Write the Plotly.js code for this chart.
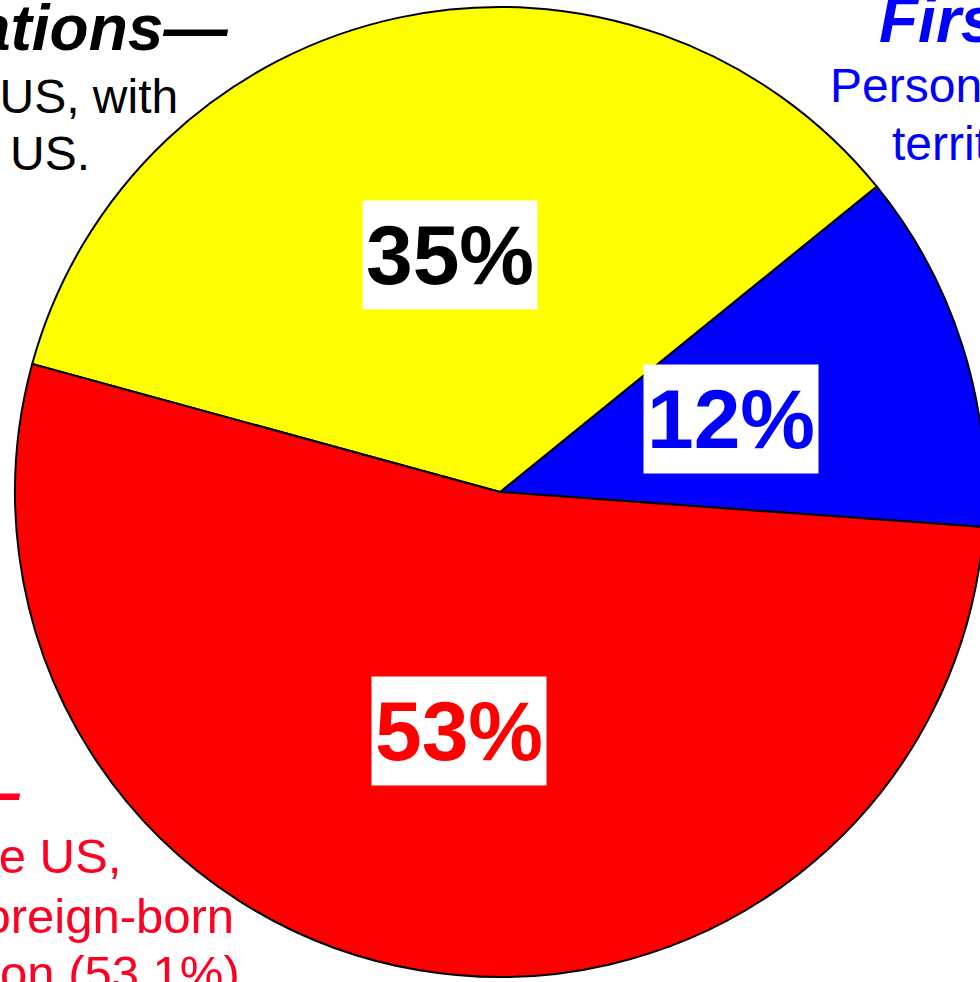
<!DOCTYPE html>
<html>
<head>
<meta charset="utf-8">
<script src="https://cdn.plot.ly/plotly-3.0.1.min.js"></script>
<style>
html, body { margin: 0; padding: 0; overflow: hidden; background: #fff; }
#chart { width: 1000px; height: 982px; }
</style>
</head>
<body>
<div id="chart"></div>
<script>
// ---- data ----
var categories = ["First Generation", "Second Generation", "Third+ Generation"];
var shares = [12.0, 34.9, 53.1];
var sliceLabels = ["12%", "35%", "53%"];
var sliceColors = ["#0000ff", "#ffff00", "#ff0000"];
var labelColors = ["#0000ff", "#000000", "#ff0000"];

// ---- geometry / layout settings ----
var W = 1000, H = 982;
var cx = 500, cy = 492, R = 485;
var rotation = 50.95; // degrees, plotly pie rotation
var FONT = "Liberation Sans, Arial, Helvetica, sans-serif";

var trace = {
  type: "pie",
  labels: categories,
  values: shares,
  sort: false,
  direction: "counterclockwise",
  rotation: rotation,
  textinfo: "none",
  hoverinfo: "none",
  marker: { colors: sliceColors, line: { color: "#000000", width: 2 } },
  domain: { x: [(cx - R) / W, (cx + R) / W], y: [1 - (cy + R) / H, 1 - (cy - R) / H] },
  showlegend: false
};

// label positions from slice bisectors (math angles)
var total = shares.reduce(function (a, b) { return a + b; }, 0);
var startMath = 90 - (rotation + shares[0] / total * 360);
var anns = [];
var acc = startMath;
for (var i = 0; i < shares.length; i++) {
  var span = shares[i] / total * 360;
  var midAng = (acc + span / 2) * Math.PI / 180;
  acc += span;
  var px = cx + 0.5 * R * Math.cos(midAng);
  var py = cy - 0.5 * R * Math.sin(midAng);
  anns.push({
    xref: "paper", yref: "paper", x: px / W, y: 1 - py / H,
    xanchor: "center", yanchor: "middle",
    text: sliceLabels[i], showarrow: false,
    bgcolor: "#ffffff", borderpad: 4, width: 166, height: 100,
    font: { family: FONT, size: 84, weight: "bold", color: labelColors[i] }
  });
}

function txt(t, x, y, anchor, size, color, bold) {
  return {
    xref: "paper", yref: "paper", x: x / W, y: 1 - y / H,
    xanchor: anchor, yanchor: "middle", text: t, showarrow: false,
    borderpad: 0,
    font: { family: FONT, size: size, color: color,
            weight: bold ? "bold" : "normal", style: bold ? "italic" : "normal" }
  };
}
// baseline -> middle: middle = baseline - 0.3465*size
function toMid(b, s) { return b - 0.3465 * s; }

var TS = 64, BS = 48, BS2 = 49;
// top-left (second generation)
anns.push(txt("Second Generations\u2014", 229, toMid(50, TS), "right", TS, "#000000", true));
anns.push(txt("Born in the US, with", 179, toMid(113, BS), "right", BS, "#000000", false));
anns.push(txt("a parent born outside the US.", 91, toMid(170, BS), "right", BS, "#000000", false));
// top-right (first generation)
anns.push(txt("First Generation\u2014", 878, toMid(42, TS), "left", TS, "#0000ff", true));
anns.push(txt("Persons born outside the US or its", 829, toMid(102, BS), "left", BS, "#0000ff", false));
anns.push(txt("territories", 891, toMid(160, BS), "left", BS, "#0000ff", false));
// bottom-left (third+ generation)
anns.push(txt("Third+ Generations\u2014", 22, toMid(814, TS), "right", TS, "#ff0022", true));
anns.push(txt("Born in the US,", 122, toMid(873, BS2), "right", BS2, "#ff0022", false));
anns.push(txt("with no foreign-born", 235, toMid(933, BS2), "right", BS2, "#ff0022", false));
anns.push(txt("parents, the population (53.1%)", 241, toMid(990, BS2), "right", BS2, "#ff0022", false));

var layout = {
  width: W, height: H,
  margin: { l: 0, r: 0, t: 0, b: 0, pad: 0 },
  paper_bgcolor: "#ffffff",
  plot_bgcolor: "#ffffff",
  showlegend: false,
  annotations: anns
};

Plotly.newPlot("chart", [trace], layout, { staticPlot: true, displayModeBar: false });
</script>
</body>
</html>
